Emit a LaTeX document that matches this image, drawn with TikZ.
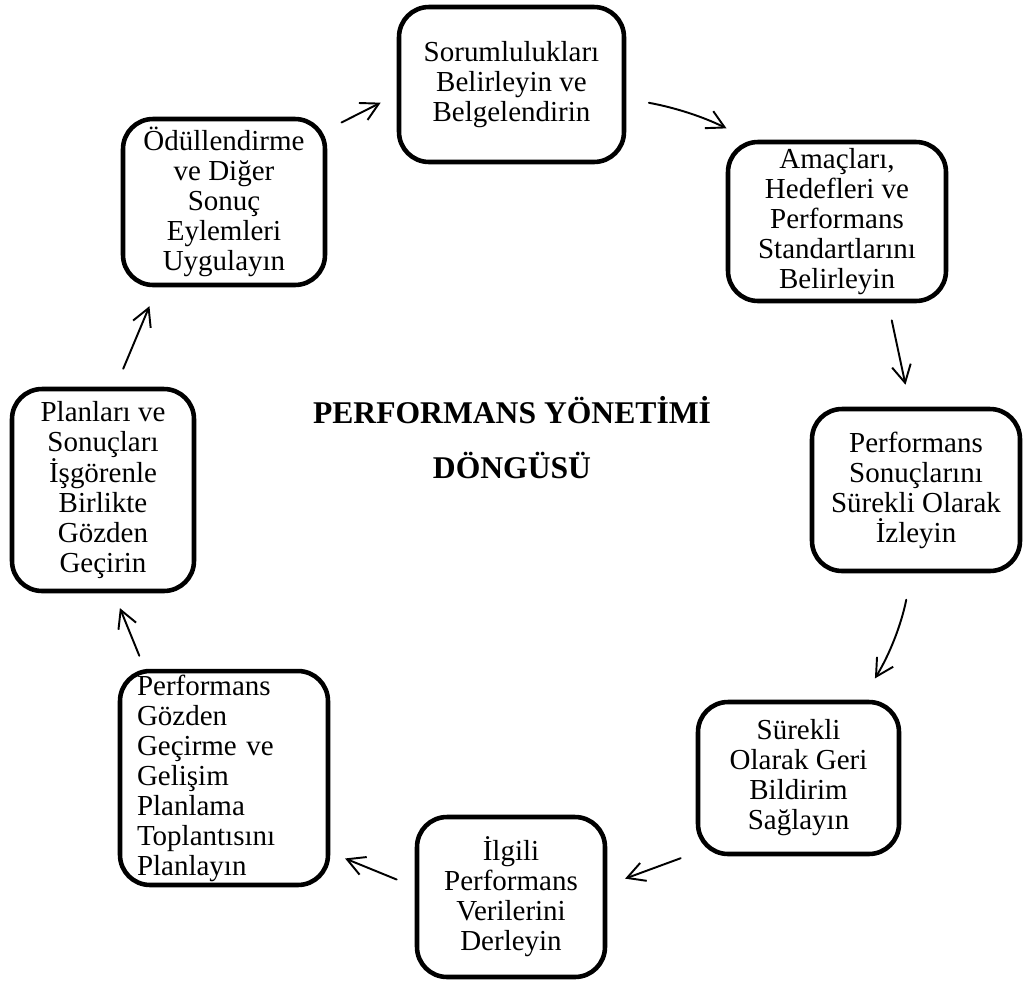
\documentclass[tikz,border=0pt]{standalone}
\usepackage{fontspec}
\setmainfont{Liberation Serif}
\usetikzlibrary{arrows.meta}

\begin{document}
\begin{tikzpicture}[x=0.02cm,y=-0.02cm,
		kutu/.style={draw, line width=2.6pt, rounded corners=0.6cm, align=center, inner sep=2pt, font=\fontsize{16.5}{17.07}\selectfont},
		pil/.style={line width=1.1pt, line cap=round, -{Straight Barb[length=3.5mm,width=3.8mm]}},
		baslik/.style={font=\fontsize{18}{20}\selectfont\bfseries}]
			\useasboundingbox (0,0) rectangle (1024,981);
			\node	(sorum) at (511.5,84.5) [kutu, minimum width=4.50cm, minimum height=3.10cm] {Sorumlulukları\\Belirleyin ve\\Belgelendirin};
			\node	(amac) at (837,221.5) [kutu, minimum width=4.36cm, minimum height=3.18cm] {Amaçları,\\Hedefleri ve\\Performans\\Standartlarını\\Belirleyin};
			\node	(izle) at (916,490) [kutu, minimum width=4.16cm, minimum height=3.24cm] {Performans\\Sonuçlarını\\Sürekli Olarak\\İzleyin};
			\node	(geri) at (798.5,778) [kutu, minimum width=4.02cm, minimum height=3.04cm] {Sürekli\\Olarak Geri\\Bildirim\\Sağlayın};
			\node	(derle) at (511,897) [kutu, minimum width=3.76cm, minimum height=3.20cm] {İlgili\\Performans\\Verilerini\\Derleyin};
			\node	(toplanti) at (224,778) [kutu, align=left, text width=3.48cm, minimum width=4.16cm, minimum height=4.28cm] {Performans\\Gözden\\Geçirme ve\\Gelişim\\Planlama\\Toplantısını\\Planlayın};
			\node	(gozden) at (103,490) [kutu, minimum width=3.64cm, minimum height=4.04cm] {Planları ve\\Sonuçları\\İşgörenle\\Birlikte\\Gözden\\Geçirin};
			\node	(odul) at (224,202) [kutu, minimum width=4.04cm, minimum height=3.32cm] {Ödüllendirme\\ve Diğer\\Sonuç\\Eylemleri\\Uygulayın};

			\node	(baslik1) at (512,410) [baslik] {PERFORMANS YÖNETİMİ};
			\node	(baslik2) at (512,465) [baslik] {DÖNGÜSÜ};

			\draw[pil, shorten <=0.32cm, shorten >=0.36cm] (odul.35) -- (sorum.185);
			\draw[pil, shorten <=0.46cm, shorten >=0.51cm] (sorum.-7) to[bend left=8] (amac.137);
			\draw[pil, shorten <=0.35cm, shorten >=0.45cm] (amac.-58) -- (izle.94);
			\draw[pil, shorten <=0.54cm, shorten >=0.50cm] (izle.267) to[bend left=10] (geri.51);
			\draw[pil, shorten <=0.32cm, shorten >=0.38cm] (geri.216) -- (derle.7);
			\draw[pil, shorten <=0.39cm, shorten >=0.32cm] (derle.174) -- (toplanti.-35);
			\draw[pil, shorten <=0.28cm, shorten >=0.32cm] (toplanti.126) -- (gozden.-84);
			\draw[pil, shorten <=0.39cm, shorten >=0.41cm] (gozden.83) -- (odul.-128);
		\end{tikzpicture}
\end{document}
